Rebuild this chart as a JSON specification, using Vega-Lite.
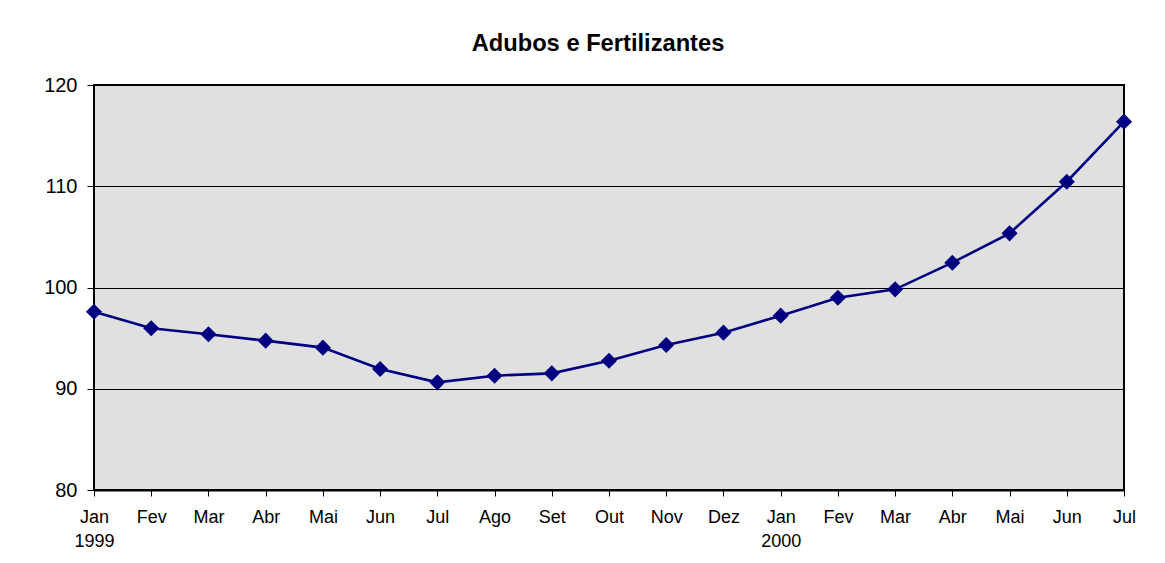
{
  "$schema": "https://vega.github.io/schema/vega-lite/v6.json",
  "width": 1030,
  "height": 405,
  "autosize": {"type": "none"},
  "padding": {"left": 94, "top": 85, "right": 41, "bottom": 73},
  "background": "white",
  "title": {
    "text": "Adubos e Fertilizantes",
    "font": "Liberation Sans",
    "fontSize": 23.7,
    "fontWeight": "bold",
    "color": "black",
    "anchor": "middle",
    "dx": -11,
    "offset": 0,
    "baseline": "alphabetic"
  },
  "config": {
    "view": {"fill": "#E0E0E0", "stroke": "black", "strokeWidth": 2},
    "axis": {
      "labelFont": "Liberation Sans",
      "labelColor": "black",
      "tickColor": "black",
      "domainColor": "black",
      "title": null
    }
  },
  "data": {
    "values": [
      {"periodo": "Jan 1999", "indice": 97.6},
      {"periodo": "Fev 1999", "indice": 95.97},
      {"periodo": "Mar 1999", "indice": 95.38},
      {"periodo": "Abr 1999", "indice": 94.75},
      {"periodo": "Mai 1999", "indice": 94.06},
      {"periodo": "Jun 1999", "indice": 91.95},
      {"periodo": "Jul 1999", "indice": 90.63},
      {"periodo": "Ago 1999", "indice": 91.29},
      {"periodo": "Set 1999", "indice": 91.52},
      {"periodo": "Out 1999", "indice": 92.77},
      {"periodo": "Nov 1999", "indice": 94.32},
      {"periodo": "Dez 1999", "indice": 95.54},
      {"periodo": "Jan 2000", "indice": 97.22},
      {"periodo": "Fev 2000", "indice": 98.99},
      {"periodo": "Mar 2000", "indice": 99.82},
      {"periodo": "Abr 2000", "indice": 102.45},
      {"periodo": "Mai 2000", "indice": 105.35},
      {"periodo": "Jun 2000", "indice": 110.45},
      {"periodo": "Jul 2000", "indice": 116.38}
    ]
  },
  "encoding": {
    "x": {
      "field": "periodo",
      "type": "ordinal",
      "sort": null,
      "scale": {"type": "point", "padding": 0},
      "axis": {
        "labelAngle": 0,
        "labelFontSize": 18,
        "domain": true,
        "domainWidth": 2,
        "tickSize": 6,
        "tickWidth": 1,
        "labelPadding": 12,
        "labelLineHeight": 24,
        "labelExpr": "indexof(datum.label, 'Jan') == 0 ? split(datum.label, ' ') : split(datum.label, ' ')[0]",
        "grid": false
      }
    },
    "y": {
      "field": "indice",
      "type": "quantitative",
      "scale": {"domain": [80, 120], "nice": false, "zero": false},
      "axis": {
        "values": [80, 90, 100, 110, 120],
        "grid": true,
        "gridColor": "black",
        "gridWidth": 1,
        "gridOpacity": 1,
        "domain": false,
        "tickSize": 7,
        "tickWidth": 1,
        "labelPadding": 10,
        "labelFontSize": 20
      }
    }
  },
  "layer": [
    {"mark": {"type": "line", "color": "#000080", "strokeWidth": 2.6}},
    {"mark": {"type": "point", "shape": "diamond", "filled": true, "color": "#000080", "opacity": 1, "size": 260}}
  ]
}
